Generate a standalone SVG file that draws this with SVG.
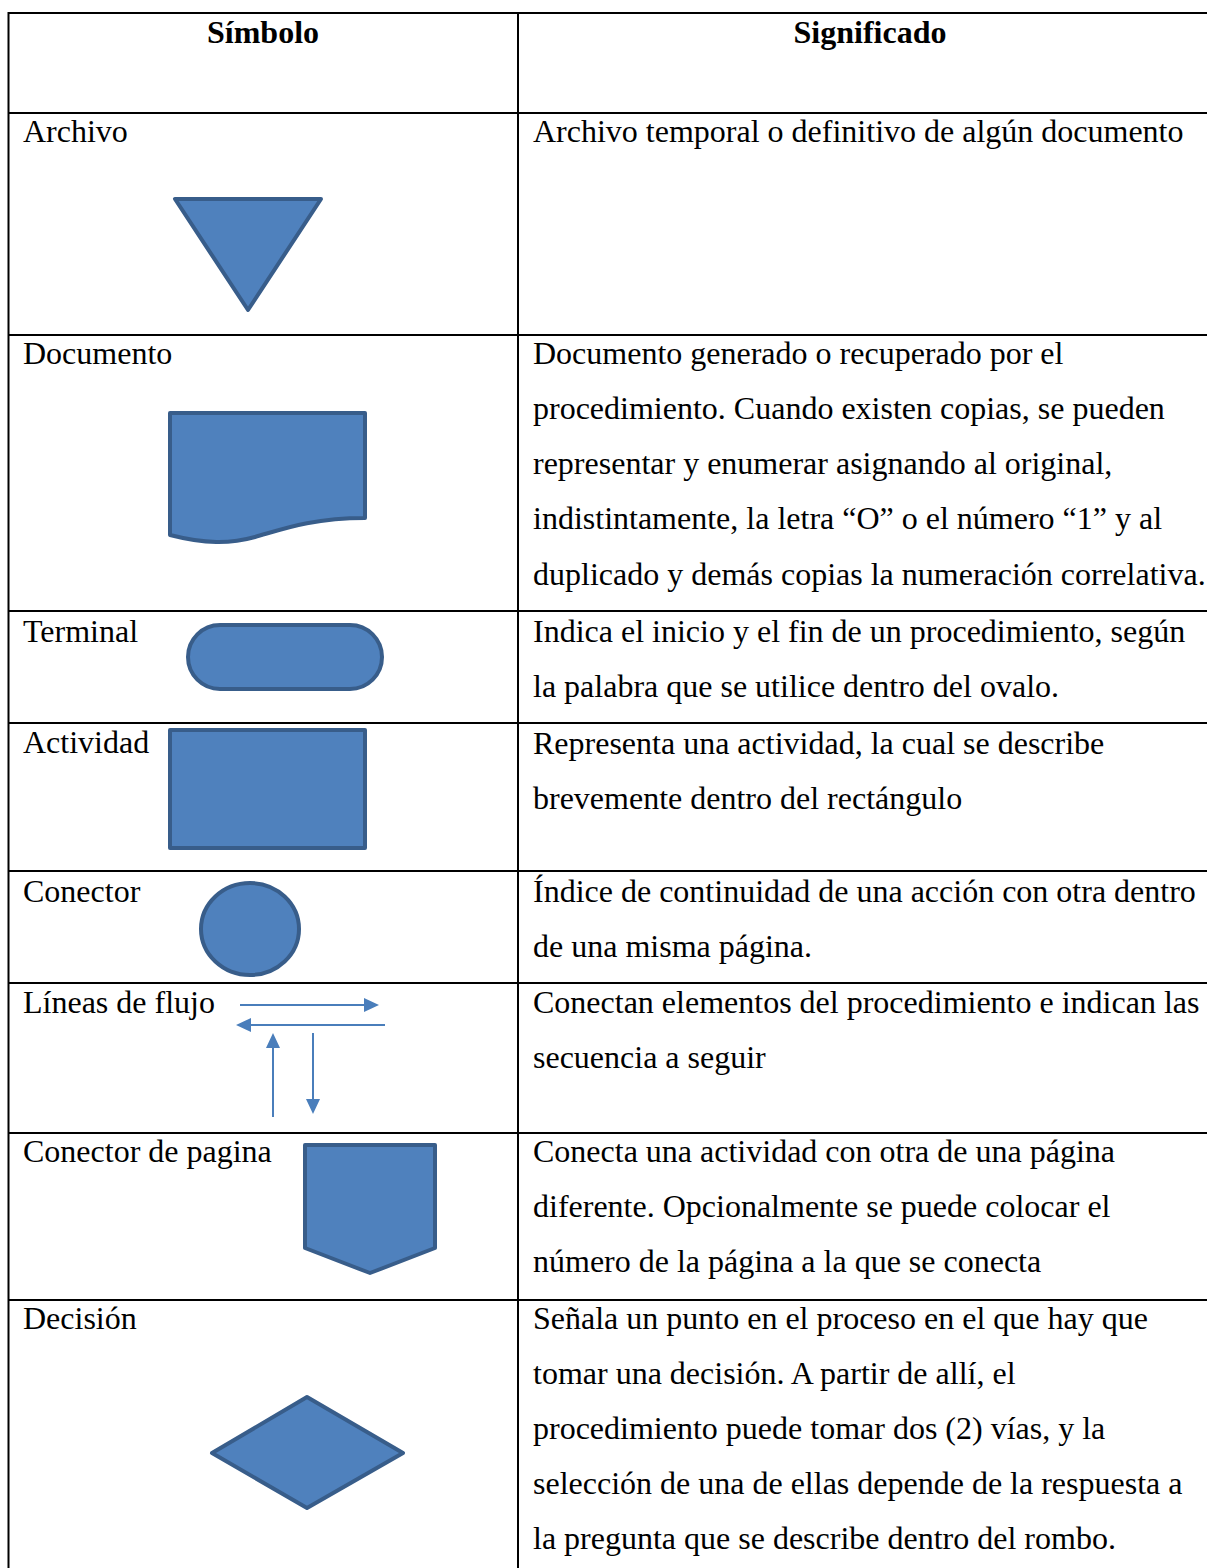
<svg xmlns="http://www.w3.org/2000/svg" width="1207" height="1568" viewBox="0 0 1207 1568">
<style>
  .t { font-family: "Liberation Serif", "Times New Roman", serif; font-size: 32px; fill: #000; }
  .h { font-family: "Liberation Serif", "Times New Roman", serif; font-size: 32px; font-weight: bold; fill: #000; text-anchor: middle; }
  .grid { stroke: #000; stroke-width: 2; fill: none; }
  .shape { fill: #4F81BD; stroke: #385D8A; stroke-width: 4; stroke-linejoin: round; }
  .flow { stroke: #4A7EBB; stroke-width: 2; fill: none; marker-end: url(#ah); }
</style>
<defs>
  <marker id="ah" viewBox="0 0 15 14" refX="3" refY="7" markerWidth="15" markerHeight="14" markerUnits="userSpaceOnUse" orient="auto">
    <path d="M0,0 L15,7 L0,14 Z" fill="#4A7EBB"/>
  </marker>
</defs>
<rect width="1207" height="1568" fill="#fff"/>
<g id="table-grid">
  <line class="grid" x1="8.5" y1="13" x2="1207" y2="13"/>
  <line class="grid" x1="8.5" y1="113" x2="1207" y2="113"/>
  <line class="grid" x1="8.5" y1="335" x2="1207" y2="335"/>
  <line class="grid" x1="8.5" y1="611" x2="1207" y2="611"/>
  <line class="grid" x1="8.5" y1="723" x2="1207" y2="723"/>
  <line class="grid" x1="8.5" y1="871" x2="1207" y2="871"/>
  <line class="grid" x1="8.5" y1="983" x2="1207" y2="983"/>
  <line class="grid" x1="8.5" y1="1133" x2="1207" y2="1133"/>
  <line class="grid" x1="8.5" y1="1300" x2="1207" y2="1300"/>
  <line class="grid" x1="8.5" y1="12" x2="8.5" y2="1568"/>
  <line class="grid" x1="518" y1="12" x2="518" y2="1568"/>
</g>
<g id="header">
  <text class="h" x="263" y="43">Símbolo</text>
  <text class="h" x="870" y="43">Significado</text>
</g>
<g id="archivo">
  <text class="t" x="23" y="142">Archivo</text>
  <polygon class="shape" points="175,199 321,199 248,310"/>
  <text class="t" x="533" y="142">Archivo temporal o definitivo de algún documento</text>
</g>
<g id="documento">
  <text class="t" x="23" y="364">Documento</text>
  <path class="shape" d="M170,413 H365 V518 C310,518 280,530 255,537 C230,544 205,544 170,535 Z"/>
  <text class="t" x="533" y="364">Documento generado o recuperado por el</text>
  <text class="t" x="533" y="419">procedimiento. Cuando existen copias, se pueden</text>
  <text class="t" x="533" y="474">representar y enumerar asignando al original,</text>
  <text class="t" x="533" y="529">indistintamente, la letra “O” o el número “1” y al</text>
  <text class="t" x="533" y="585">duplicado y demás copias la numeración correlativa.</text>
</g>
<g id="terminal">
  <text class="t" x="23" y="642">Terminal</text>
  <rect class="shape" x="188" y="625" width="194" height="64" rx="32" ry="32"/>
  <text class="t" x="533" y="642">Indica el inicio y el fin de un procedimiento, según</text>
  <text class="t" x="533" y="697">la palabra que se utilice dentro del ovalo.</text>
</g>
<g id="actividad">
  <text class="t" x="23" y="753">Actividad</text>
  <rect class="shape" x="170" y="730" width="195" height="118"/>
  <text class="t" x="533" y="754">Representa una actividad, la cual se describe</text>
  <text class="t" x="533" y="809">brevemente dentro del rectángulo</text>
</g>
<g id="conector">
  <text class="t" x="23" y="902">Conector</text>
  <ellipse class="shape" cx="250" cy="929" rx="49" ry="46"/>
  <text class="t" x="533" y="902">Índice de continuidad de una acción con otra dentro</text>
  <text class="t" x="533" y="957">de una misma página.</text>
</g>
<g id="lineas-de-flujo">
  <text class="t" x="23" y="1013">Líneas de flujo</text>
  <text class="t" x="533" y="1013">Conectan elementos del procedimiento e indican las</text>
  <text class="t" x="533" y="1068">secuencia a seguir</text>
</g>
<g id="connectors">
  <line class="flow" x1="240" y1="1005" x2="367" y2="1005"/>
  <line class="flow" x1="385" y1="1025" x2="248" y2="1025"/>
  <line class="flow" x1="273" y1="1117" x2="273" y2="1045"/>
  <line class="flow" x1="313" y1="1033" x2="313" y2="1102"/>
</g>
<g id="conector-de-pagina">
  <text class="t" x="23" y="1162">Conector de pagina</text>
  <polygon class="shape" points="305,1145 435,1145 435,1248 370,1273 305,1248"/>
  <text class="t" x="533" y="1162">Conecta una actividad con otra de una página</text>
  <text class="t" x="533" y="1217">diferente. Opcionalmente se puede colocar el</text>
  <text class="t" x="533" y="1272">número de la página a la que se conecta</text>
</g>
<g id="decision">
  <text class="t" x="23" y="1329">Decisión</text>
  <polygon class="shape" points="307,1397 403,1453 307,1508 212,1453"/>
  <text class="t" x="533" y="1329">Señala un punto en el proceso en el que hay que</text>
  <text class="t" x="533" y="1384">tomar una decisión. A partir de allí, el</text>
  <text class="t" x="533" y="1439">procedimiento puede tomar dos (2) vías, y la</text>
  <text class="t" x="533" y="1494">selección de una de ellas depende de la respuesta a</text>
  <text class="t" x="533" y="1549">la pregunta que se describe dentro del rombo.</text>
</g>
</svg>
